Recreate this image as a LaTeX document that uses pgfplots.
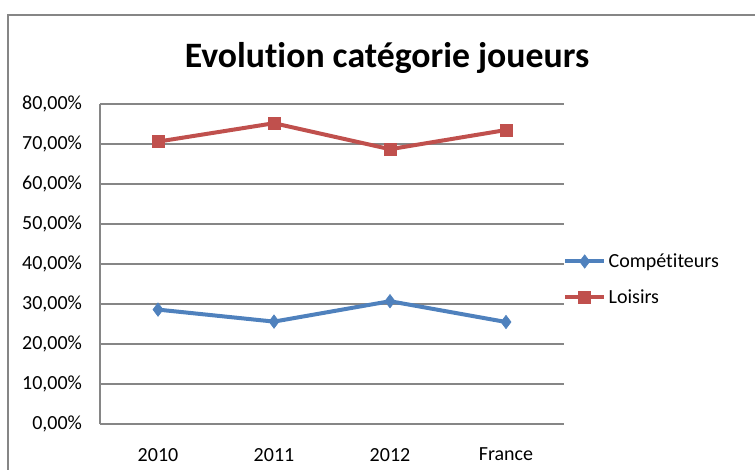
\documentclass[border=0pt]{standalone}
\usepackage{pgfplots}
\pgfplotsset{compat=1.18}
\usepackage{fontspec}
\setmainfont[Ligatures=NoCommon]{Carlito}
\definecolor{cblue}{HTML}{4F81BD}
\definecolor{cred}{HTML}{C0504D}
\definecolor{gridc}{HTML}{868686}
\begin{document}
\begin{tikzpicture}
\useasboundingbox (0pt,0pt) rectangle (566.25pt,351.75pt);
\draw[gridc, line width=1.2pt] (6pt,-10pt) -- (6pt,340.5pt) -- (580pt,340.5pt);
\node[font=\bfseries\fontsize{26.8}{32}\selectfont] at (290.25pt,308.25pt) {Evolution catégorie joueurs};
\begin{axis}[
  at={(75pt,33.75pt)}, anchor=south west, scale only axis,
  width=348pt, height=240pt,
  xmin=-0.5, xmax=3.5, ymin=0, ymax=80,
  xtick={0,1,2,3}, xticklabels={2010,2011,2012,France},
  ytick={0,10,...,80},
  yticklabels={{0,00\%},{10,00\%},{20,00\%},{30,00\%},{40,00\%},{50,00\%},{60,00\%},{70,00\%},{80,00\%}},
  ymajorgrids, grid style={gridc, line width=0.8pt},
  axis x line*=bottom, axis y line*=left,
  axis line style={gridc, line width=0.8pt},
  tick style={draw=none},
  tick label style={font=\fontsize{15}{17}\selectfont},
  xticklabel style={yshift=-14.5pt},
  yticklabel style={xshift=-10pt},
  legend style={at={(0.998,0.452)}, anchor=west, draw=none, fill=none,
    font=\fontsize{15}{17}\selectfont, row sep=11pt, inner sep=0pt},
  legend cell align=left,
  legend image code/.code={\draw[mark repeat=2,mark phase=2,#1] plot coordinates {(0pt,0pt) (14.5pt,0pt) (29pt,0pt)};},
]
\addplot[cblue, line width=3pt, mark=diamond*, mark size=5pt, mark options={solid, line width=0.5pt}]
  coordinates {(0,28.6) (1,25.6) (2,30.7) (3,25.5)};
\addlegendentry{Compétiteurs}
\addplot[cred, line width=3pt, mark=square*, mark size=4.5pt, mark options={solid, line width=0.5pt}]
  coordinates {(0,70.6) (1,75.2) (2,68.7) (3,73.5)};
\addlegendentry{Loisirs}
\end{axis}
\end{tikzpicture}
\end{document}
